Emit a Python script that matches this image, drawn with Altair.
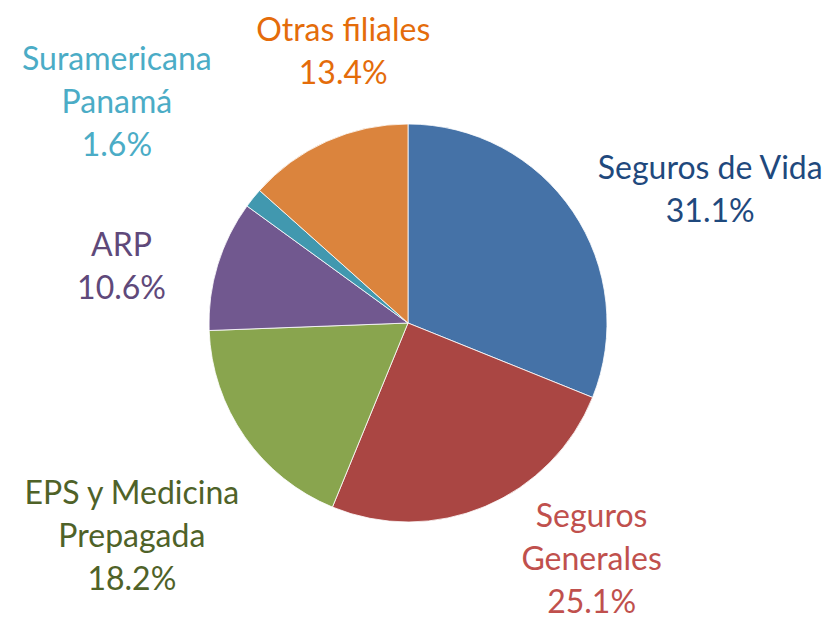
import math
import altair as alt
import pandas as pd

categories = ["Seguros de Vida", "Seguros\nGenerales", "EPS y Medicina\nPrepagada",
              "ARP", "Suramericana\nPanamá", "Otras filiales"]
shares = [31.1, 25.1, 18.2, 10.6, 1.6, 13.4]
slice_colors = ["#4572A7", "#AA4643", "#89A54E", "#71588F", "#4198AF", "#DB843D"]
label_colors = ["#1F497D", "#C0504D", "#4F6228", "#5F497A", "#4BACC6", "#E46C0A"]

# label layout: (radius, dx, dy) in pixels, dy refers to the centre of the text block
label_layout = [(326, 32, 50), (295, 69, -35), (349, 10, 14), (290, -9, 29),
                (365, -7, 9), (276, 48, -19)]

CX, CY, R = 400, 315, 199
FONT = "Lato"
FS, LH = 32, 43

df = pd.DataFrame({"cat": categories, "value": shares, "idx": list(range(len(shares)))})

theta_scale = alt.Scale(domain=[0, 100], range=[0, 2 * math.pi])

base = alt.Chart(df).transform_window(
    cum="sum(value)", sort=[alt.SortField("idx")], frame=[None, 0]
).transform_calculate(
    start="datum.cum - datum.value",
    mid="datum.cum - datum.value / 2",
    label="datum.cat + '\\n' + format(datum.value, '.1f') + '%'",
)

pie = base.mark_arc(outerRadius=R, stroke="white", strokeWidth=0.8).encode(
    theta=alt.Theta("start:Q", scale=theta_scale),
    theta2="cum:Q",
    color=alt.Color("cat:N", scale=alt.Scale(domain=categories, range=slice_colors), legend=None),
    x=alt.value(CX),
    y=alt.value(CY),
)

layers = [pie]
for cat, col, (r, dx, dy) in zip(categories, label_colors, label_layout):
    n_lines = cat.count("\n") + 2
    layers.append(
        base.transform_filter(alt.FieldEqualPredicate(field="cat", equal=cat))
        .mark_text(radius=r, dx=dx, dy=dy - (n_lines - 1) * LH / 2, font=FONT,
                   fontSize=FS, lineHeight=LH, lineBreak="\n", align="center",
                   baseline="middle", color=col)
        .encode(theta=alt.Theta("mid:Q", scale=theta_scale), text="label:N",
                x=alt.value(CX), y=alt.value(CY))
    )

chart = alt.layer(*layers).properties(
    width=816, height=607, autosize="none", padding=0
).configure_view(stroke=None)

chart.save("out.html", embed_options={"renderer": "svg", "actions": False})
